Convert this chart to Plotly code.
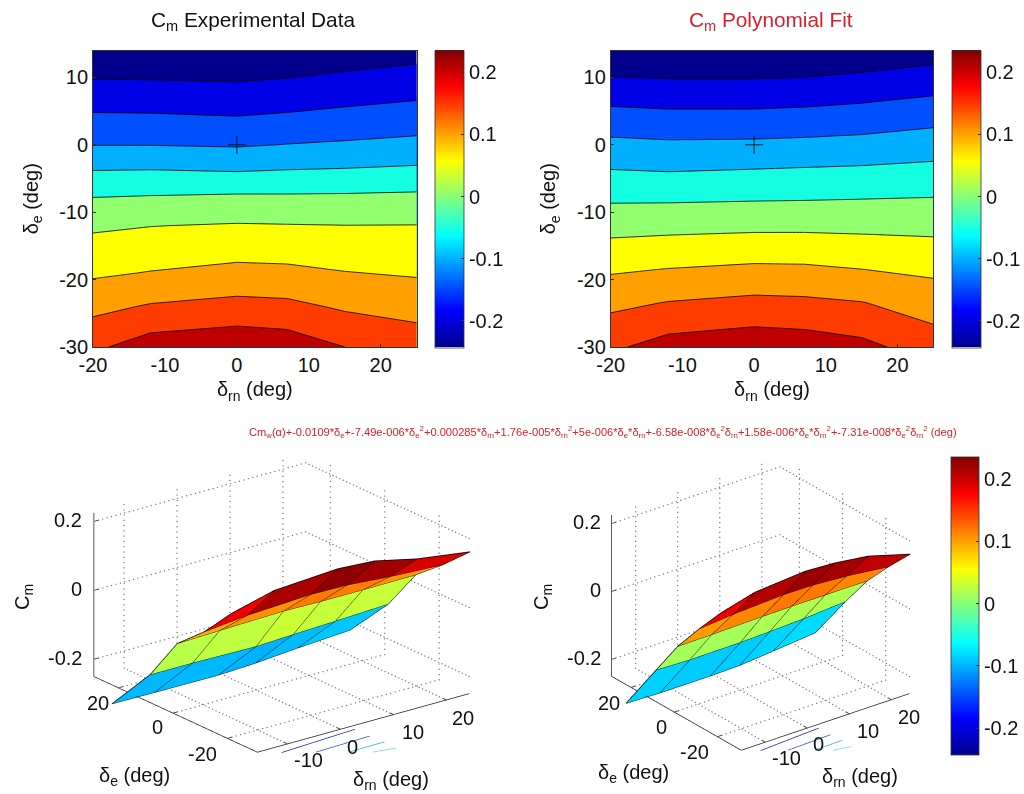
import plotly.graph_objects as go

W, H = 1024, 794

# ---------------- data ----------------
rudder = [-20, -12, 0, 7, 15, 25]

elev_exp = [-30, -27, -24, -19, -12, -7.3, -3.7, 0, 4.8, 10, 14]
cm_exp = [
    [0.1833, 0.2154, 0.2266, 0.2197, 0.1920, 0.1702],
    [0.1571, 0.1820, 0.1931, 0.1877, 0.1643, 0.1484],
    [0.1307, 0.1485, 0.1596, 0.1557, 0.1376, 0.1265],
    [0.0888, 0.0980, 0.1087, 0.1066, 0.0976, 0.0912],
    [0.0405, 0.0470, 0.0519, 0.0503, 0.0487, 0.0492],
    [-0.0049, -0.0025, 0.0000, 0.0000, 0.0010, 0.0039],
    [-0.0493, -0.0480, -0.0520, -0.0480, -0.0454, -0.0404],
    [-0.0970, -0.0970, -0.1002, -0.0947, -0.0900, -0.0834],
    [-0.1440, -0.1450, -0.1496, -0.1440, -0.1365, -0.1283],
    [-0.1944, -0.1954, -0.1980, -0.1929, -0.1838, -0.1742],
    [-0.2332, -0.2342, -0.2352, -0.2305, -0.2202, -0.2098],
]

elev_fit = [-30, -27.5, -23.5, -18.5, -13.3, -8.3, -3.5, 1, 5.6, 10, 14]
cm_fit = [
    [0.1842, 0.2108, 0.2226, 0.2175, 0.2046, 0.1691],
    [0.1647, 0.1861, 0.1971, 0.1930, 0.1821, 0.1501],
    [0.1325, 0.1465, 0.1563, 0.1538, 0.1462, 0.1222],
    [0.0898, 0.0975, 0.1052, 0.1040, 0.0965, 0.0868],
    [0.0433, 0.0470, 0.0511, 0.0511, 0.0485, 0.0452],
    [-0.0034, -0.0031, -0.0005, 0.0005, 0.0023, 0.0045],
    [-0.0495, -0.0531, -0.0491, -0.0465, -0.0437, -0.0381],
    [-0.0945, -0.0986, -0.0976, -0.0949, -0.0907, -0.0806],
    [-0.1429, -0.1472, -0.1472, -0.1440, -0.1379, -0.1266],
    [-0.1904, -0.1941, -0.1941, -0.1915, -0.1841, -0.1722],
    [-0.2336, -0.2369, -0.2369, -0.2347, -0.2261, -0.2138],
]

mesh_elev = [14, 0, -10, -20, -30]
# heights of the mesh as drawn
mesh_exp = [
    [-0.256, -0.257, -0.258, -0.253, -0.243, -0.233],
    [-0.120, -0.120, -0.123, -0.118, -0.113, -0.106],
    [0.007, 0.011, 0.016, 0.014, 0.014, 0.015],
    [0.078, 0.091, 0.101, 0.099, 0.089, 0.081],
    [0.168, 0.200, 0.212, 0.205, 0.177, 0.155],
]
mesh_fit = [
    [-0.257, -0.260, -0.260, -0.258, -0.249, -0.237],
    [-0.108, -0.111, -0.110, -0.107, -0.103, -0.094],
    [-0.002, -0.001, 0.002, 0.003, 0.003, 0.003],
    [0.086, 0.095, 0.103, 0.102, 0.095, 0.081],
    [0.169, 0.196, 0.208, 0.203, 0.190, 0.154],
]
# values that give each mesh cell its colour
shade_exp = [
    [-0.233, -0.234, -0.235, -0.230, -0.220, -0.210],
    [-0.097, -0.097, -0.100, -0.095, -0.090, -0.083],
    [0.022, 0.026, 0.031, 0.029, 0.029, 0.030],
    [0.095, 0.108, 0.118, 0.116, 0.106, 0.098],
    [0.183, 0.215, 0.227, 0.220, 0.192, 0.170],
]
shade_fit = [
    [-0.234, -0.237, -0.237, -0.235, -0.226, -0.214],
    [-0.085, -0.088, -0.087, -0.084, -0.080, -0.071],
    [0.013, 0.014, 0.017, 0.018, 0.018, 0.018],
    [0.103, 0.112, 0.120, 0.119, 0.112, 0.098],
    [0.184, 0.211, 0.223, 0.218, 0.205, 0.169],
]

# contours of the surface on the floor: (rudder ends, elevator ends, colour)
floor_rudder = [[-12.9, 1.7], [-8.7, 1.7], [-4.6, 2.0], [-2.0, 1.75]]
floor_elev = [[-34.5, -33.0], [-39.0, -38.4], [-43.5, -43.3], [-46.8, -48.0]]
floor_colors = ["#2020a8", "#3050c0", "#30b0d0", "#60e0e0"]

levels_start, levels_end, levels_step = -0.192, 0.192, 0.048
band_colors = ["#00008c", "#0000e6", "#0050ff", "#00afff", "#14ffe1",
               "#91ff6e", "#ffff00", "#ffa000", "#ff3c00", "#be0000"]

jet = [[0, "#00008f"], [0.125, "#0000ff"], [0.375, "#00ffff"],
       [0.625, "#ffff00"], [0.875, "#ff0000"], [1, "#800000"]]
cbar_min, cbar_max = -0.243, 0.235
cbar_vals = [-0.2, -0.1, 0, 0.1, 0.2]
cbar_text = ["-0.2", "-0.1", "0", "0.1", "0.2"]

x_ticks = [-20, -10, 0, 10, 20]
x_text = ["-20", "-10", "0", "10", "20"]
y_ticks = [-30, -20, -10, 0, 10]
y_text = ["-30", "-20", "-10", "0", "10"]

box_rn = [-15.7, 24.3]
box_e = [-31, 29]
box_z = [-0.25, 0.225]
rn_ticks, rn_text = [-10, 0, 10, 20], ["-10", "0", "10", "20"]
e_ticks, e_text = [20, 0, -20], ["20", "0", "-20"]
z_ticks, z_text = [-0.2, 0, 0.2], ["-0.2", "0", "0.2"]

FONT = "Liberation Sans"
TXT = "#111111"
AXC = "#333333"
FS = 20


def px(x):
    return x / W


def py(y):
    return 1 - y / H


def band_scale(colors):
    n = len(colors) - 1
    return [[k / n, c] for k, c in enumerate(colors)]


def jet_color(v):
    t = (v - cbar_min) / (cbar_max - cbar_min)
    t = min(max(t, 0), 1)
    stops = [(0, (0, 0, 143)), (0.125, (0, 0, 255)), (0.375, (0, 255, 255)),
             (0.625, (255, 255, 0)), (0.875, (255, 0, 0)), (1, (128, 0, 0))]
    for (a, ca), (b, cb) in zip(stops, stops[1:]):
        if t <= b:
            f = (t - a) / (b - a)
            c = [round(ca[i] + f * (cb[i] - ca[i])) for i in range(3)]
            return f"rgb({c[0]},{c[1]},{c[2]})"
    return "rgb(128,0,0)"


fig = go.Figure()


def contour_panel(n, left, right, top, bottom, elev, cm, cb_left, cb_top, cb_h):
    suffix = "" if n == 1 else str(n)
    xa, ya = "x" + suffix, "y" + suffix
    fig.add_trace(go.Contour(
        x=rudder, y=elev, z=cm, xaxis=xa, yaxis=ya, autocontour=False,
        contours=dict(start=levels_start, end=levels_end, size=levels_step,
                      coloring="fill", showlines=True),
        line=dict(color="black", width=0.8, smoothing=0),
        colorscale=band_scale(band_colors), showscale=False, hoverinfo="skip"))
    fig.add_trace(go.Scatter(
        x=[0], y=[0], xaxis=xa, yaxis=ya, mode="markers", showlegend=False, hoverinfo="skip",
        marker=dict(symbol="cross-thin", size=13, line=dict(color="#111111", width=0.9))))
    add_colorbar(xa, ya, cb_left, cb_top, cb_h)
    axis = dict(tickmode="array", ticks="inside", ticklen=3, tickcolor=AXC, tickwidth=0.8,
                showgrid=False, zeroline=False, showline=True, linecolor=AXC, linewidth=0.8,
                mirror=True, automargin=False, tickfont=dict(family=FONT, size=FS, color=TXT))
    fig.update_layout({
        "xaxis" + suffix: dict(axis, domain=[px(left), px(right)], range=[-20, 25], anchor=ya,
                               tickvals=x_ticks, ticktext=x_text,
                               title=dict(text="δ<sub>rn</sub> (deg)", standoff=7,
                                          font=dict(family=FONT, size=FS, color=TXT))),
        "yaxis" + suffix: dict(axis, domain=[py(bottom), py(top)], range=[-30, 14], anchor=xa,
                               tickvals=y_ticks, ticktext=y_text,
                               title=dict(text="δ<sub>e</sub> (deg)", standoff=15,
                                          font=dict(family=FONT, size=FS, color=TXT))),
    })


def add_colorbar(xa, ya, left, top, h, thick=29):
    fig.add_trace(go.Scatter(
        x=[0], y=[0], xaxis=xa, yaxis=ya, mode="markers", showlegend=False, hoverinfo="skip",
        marker=dict(color=[0], colorscale=jet, cmin=cbar_min, cmax=cbar_max, size=1, opacity=0,
                    showscale=True,
                    colorbar=dict(x=px(left), xanchor="left", xpad=0, ypad=0, y=py(top), yanchor="top",
                                  thickness=thick, thicknessmode="pixels", len=h, lenmode="pixels",
                                  tickmode="array", tickvals=cbar_vals, ticktext=cbar_text,
                                  ticks="inside", ticklen=3, tickcolor=AXC, tickwidth=0.8,
                                  outlinecolor=AXC, outlinewidth=0.8,
                                  tickfont=dict(family=FONT, size=FS, color=TXT)))))


def segs(pairs):
    xs, ys, zs = [], [], []
    for a, b in pairs:
        xs += [a[0], b[0], None]
        ys += [a[1], b[1], None]
        zs += [a[2], b[2], None]
    return xs, ys, zs


def dotted(pairs, pxrn, pxe, pxz, gap=5.5):
    xs, ys, zs = [], [], []
    for a, b in pairs:
        length = (((b[0] - a[0]) * pxrn) ** 2 + ((b[1] - a[1]) * pxe) ** 2 + ((b[2] - a[2]) * pxz) ** 2) ** 0.5
        n = max(int(length / gap), 1)
        for i in range(n + 1):
            f = i / n
            xs.append(a[0] + f * (b[0] - a[0]))
            ys.append(a[1] + f * (b[1] - a[1]))
            zs.append(a[2] + f * (b[2] - a[2]))
    return xs, ys, zs


def surface_panel(name, mesh, shade, cx, cy, hw, hh, pxrn, pxe, pxz, zoom, eye_dir, z_lab_shift, e_shift, rn_shift):
    rng_x, rng_y, rng_z = [-21, 26], [-50, 48], [-0.30, 0.28]
    lx, ly, lz = (rng_x[1] - rng_x[0]) * pxrn, (rng_y[1] - rng_y[0]) * pxe, (rng_z[1] - rng_z[0]) * pxz
    big = ly / zoom
    lab = dict(family=FONT, size=FS, color=TXT)
    fig.update_layout({name: dict(
        domain=dict(x=[px(cx - hw), px(cx + hw)], y=[py(cy + hh), py(cy - hh)]),
        aspectmode="manual", aspectratio=dict(x=lx / big, y=ly / big, z=lz / big),
        camera=dict(projection=dict(type="orthographic"),
                    center=dict(x=0, y=0, z=0), up=dict(x=0, y=0, z=1),
                    eye=dict(x=eye_dir[0] * 2, y=eye_dir[1] * 2, z=eye_dir[2] * 2)),
        xaxis=dict(visible=False, range=rng_x), yaxis=dict(visible=False, range=rng_y),
        zaxis=dict(visible=False, range=rng_z),
        bgcolor="rgba(0,0,0,0)",
        annotations=(
            [dict(x=box_rn[0], y=box_e[1], z=v, text=t, showarrow=False, xanchor="right", xshift=z_lab_shift[0],
                  yshift=z_lab_shift[1], font=lab)
             for v, t in zip(z_ticks, z_text)] +
            [dict(x=box_rn[0], y=v, z=box_z[0], text=t, showarrow=False, xshift=s[0], yshift=s[1], font=lab)
             for v, t, s in zip(e_ticks, e_text, e_shift)] +
            [dict(x=v, y=box_e[0], z=box_z[0], text=t, showarrow=False, xshift=s[0], yshift=s[1], font=lab)
             for v, t, s in zip(rn_ticks, rn_text, rn_shift)]))})

    r0, r1, e0, e1, z0, z1 = box_rn[0], box_rn[1], box_e[0], box_e[1], box_z[0], box_z[1]
    grid = []
    for v in rn_ticks:
        grid += [((v, e0, z0), (v, e1, z0)), ((v, e1, z0), (v, e1, z1))]
    for v in e_ticks:
        grid += [((r0, v, z0), (r1, v, z0)), ((r1, v, z0), (r1, v, z1))]
    for v in z_ticks:
        grid += [((r0, e1, v), (r1, e1, v)), ((r1, e1, v), (r1, e0, v))]
    gx, gy, gz = dotted(grid, pxrn, pxe, pxz)
    fig.add_trace(go.Scatter3d(x=gx, y=gy, z=gz, scene=name, mode="markers", showlegend=False, hoverinfo="skip",
                               marker=dict(color="#777777", size=0.8, line=dict(width=0))))
    ax = [((r0, e1, z0), (r0, e1, z1)), ((r0, e1, z0), (r0, e0, z0)), ((r0, e0, z0), (r1, e0, z0))]
    for v in z_ticks:
        ax.append(((r0, e1, v), (r0 + 1, e1, v)))
    for v in e_ticks:
        ax.append(((r0, v, z0), (r0 + 1, v, z0)))
    for v in rn_ticks:
        ax.append(((v, e0, z0), (v, e0 + 1.5, z0)))
    ax_x, ax_y, ax_z = segs(ax)
    fig.add_trace(go.Scatter3d(x=ax_x, y=ax_y, z=ax_z, scene=name, mode="lines", showlegend=False, hoverinfo="skip",
                               line=dict(color="#222222", width=1.5)))

    for rr, ee, col in zip(floor_rudder, floor_elev, floor_colors):
        fig.add_trace(go.Scatter3d(x=rr, y=ee, z=[z0, z0], scene=name, mode="lines", showlegend=False,
                                   hoverinfo="skip", line=dict(color=col, width=1.5)))

    nr, nc = len(mesh_elev), len(rudder)
    vx, vy, vz, ii, jj, kk, fc = [], [], [], [], [], [], []
    for r in range(nr):
        for c in range(nc):
            vx.append(rudder[c])
            vy.append(mesh_elev[r])
            vz.append(mesh[r][c])
    for r in range(nr - 1):
        for c in range(nc - 1):
            a, b, d, e = r * nc + c, r * nc + c + 1, (r + 1) * nc + c, (r + 1) * nc + c + 1
            col = jet_color(shade[r + 1][c])
            ii += [a, b]
            jj += [b, e]
            kk += [d, d]
            fc += [col, col]
    fig.add_trace(go.Mesh3d(x=vx, y=vy, z=vz, i=ii, j=jj, k=kk, facecolor=fc, scene=name, hoverinfo="skip",
                            flatshading=True, showscale=False,
                            lighting=dict(ambient=1, diffuse=0, specular=0, roughness=1, fresnel=0)))
    wire = []
    for r in range(nr):
        for c in range(nc):
            p = (rudder[c], mesh_elev[r], mesh[r][c])
            if c + 1 < nc:
                wire.append((p, (rudder[c + 1], mesh_elev[r], mesh[r][c + 1])))
            if r + 1 < nr:
                wire.append((p, (rudder[c], mesh_elev[r + 1], mesh[r + 1][c])))
    wx, wy, wz = segs(wire)
    fig.add_trace(go.Scatter3d(x=wx, y=wy, z=wz, scene=name, mode="lines", showlegend=False, hoverinfo="skip",
                               line=dict(color="#000000", width=1.5)))


contour_panel(1, 93, 416.7, 50.5, 347, elev_exp, cm_exp, 435, 50.5, 296.5)
contour_panel(2, 610.7, 933.3, 50.5, 347, elev_fit, cm_fit, 952, 50.5, 296.5)

surface_panel("scene", mesh_exp, shade_exp, 271.6, 605.3, 200, 185, 6.70, 4.46, 369.5, 2.36, (-0.571, -0.739, 0.358),
              (-9, 2), [(-20, -15), (-15, -14), (-24, -15)], [(21, -16), (12, -17), (20, -17), (17, -18)])
surface_panel("scene2", mesh_fit, shade_fit, 753.4, 606.2, 180, 185, 5.39, 3.60, 384, 1.877, (-0.5475, -0.7124, 0.4384),
              (-9, 2), [(-23, -15), (-13, -15), (-23, -15)], [(21, -16), (11, -16), (18, -17), (17, -17.5)])

# shared colour bar of the lower row
add_colorbar("x3", "y3", 951, 457, 298, 28)
fig.update_layout(xaxis3=dict(visible=False, domain=[0, 0.001], anchor="y3"),
                  yaxis3=dict(visible=False, domain=[0, 0.001], anchor="x3"))

equation = ("Cm<sub>w</sub>(α)+-0.0109*δ<sub>e</sub>+-7.49e-006*δ<sub>e</sub><sup>2</sup>+0.000285*δ<sub>rn</sub>"
            "+1.76e-005*δ<sub>rn</sub><sup>2</sup>+5e-006*δ<sub>e</sub>*δ<sub>rn</sub>"
            "+-6.58e-008*δ<sub>e</sub><sup>2</sup>δ<sub>rn</sub>+1.58e-006*δ<sub>e</sub>*δ<sub>rn</sub><sup>2</sup>"
            "+-7.31e-008*δ<sub>e</sub><sup>2</sup>δ<sub>rn</sub><sup>2</sup> (deg)")
RED = "#d8202a"


def note(x, y, text, color=TXT, size=FS, angle=0):
    return dict(x=px(x), y=py(y), xref="paper", yref="paper", text=text, showarrow=False, textangle=angle,
                xanchor="center", yanchor="middle", font=dict(family=FONT, size=size, color=color))


fig.update_layout(
    width=W, height=H, margin=dict(l=0, r=0, t=0, b=0), paper_bgcolor="white", plot_bgcolor="white",
    showlegend=False, font=dict(family=FONT),
    annotations=[
        note(253, 21, "C<sub>m</sub> Experimental Data", size=20.8),
        note(771, 21, "C<sub>m</sub> Polynomial Fit", RED, size=20.8),
        note(602.5, 432, equation, RED, 11.1),
        note(134, 776, "δ<sub>e</sub> (deg)"),
        note(391, 780, "δ<sub>rn</sub> (deg)"),
        note(23, 597, "C<sub>m</sub>", angle=-90),
        note(633, 773, "δ<sub>e</sub> (deg)"),
        note(860, 777, "δ<sub>rn</sub> (deg)"),
        note(542, 597, "C<sub>m</sub>", angle=-90),
    ])

fig.write_html("out.html", config=dict(displayModeBar=False),
               post_script="document.body.style.margin='0';document.body.style.overflow='hidden';")
